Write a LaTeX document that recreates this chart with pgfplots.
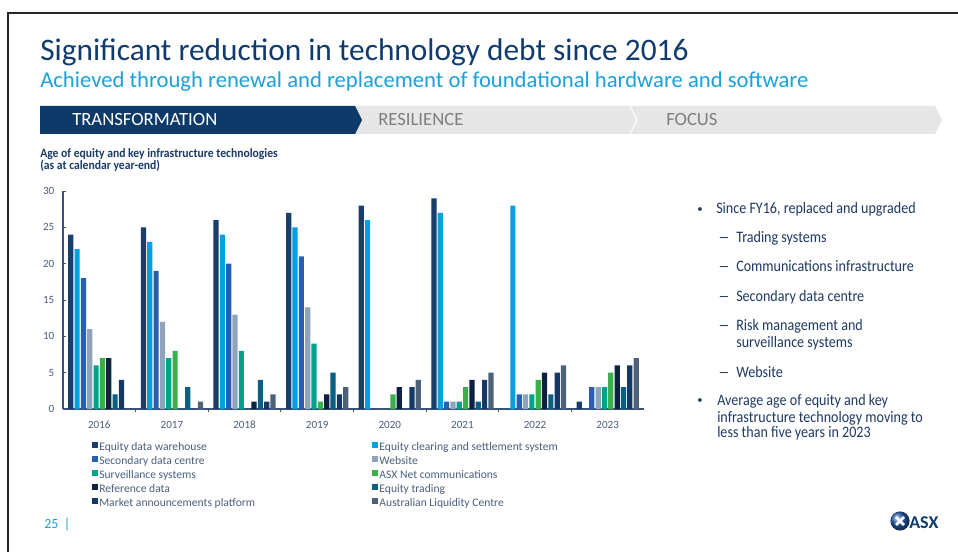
\documentclass[border=0pt]{standalone}
\usepackage{pgfplots}
\pgfplotsset{compat=1.18}
\usepackage{fontspec}
\setmainfont{Carlito}
\newfontfamily\narrowf[FakeStretch=0.88]{Carlito}
\newfontfamily\semif[FakeStretch=0.92]{Carlito}
\definecolor{titlec}{HTML}{0F3B6E}
\definecolor{subc}{HTML}{1BA1DB}
\definecolor{chevd}{HTML}{0E3A6A}
\definecolor{chevg}{HTML}{E6E6E6}
\definecolor{chevt}{HTML}{7F7F7F}
\definecolor{txtc}{HTML}{1E3A64}
\definecolor{ctc}{HTML}{1A3A6A}
\definecolor{axisc}{HTML}{3A5275}
\definecolor{tickc}{HTML}{4A5E7E}
\definecolor{legc}{HTML}{4A5F7F}
\definecolor{cA}{HTML}{1A3D6B}
\definecolor{cB}{HTML}{04A0E2}
\definecolor{cC}{HTML}{2A5FAE}
\definecolor{cD}{HTML}{8FA3BB}
\definecolor{cE}{HTML}{00A38A}
\definecolor{cF}{HTML}{3AB04A}
\definecolor{cG}{HTML}{0D2240}
\definecolor{cH}{HTML}{0A5F82}
\definecolor{cI}{HTML}{163864}
\definecolor{cJ}{HTML}{4D6178}
\newcommand{\dash}{\scalebox{1.6}[1]{–}}
\begin{document}
\begin{tikzpicture}
\path[use as bounding box] (0,0) rectangle (718.5pt,413.25pt);
\fill[white] (0,0) rectangle (718.5pt,413.25pt);
\begin{scope}[x=0.75pt,y=-0.75pt,shift={(0pt,413.25pt)}]
  % frame
  \draw[black!85, line width=1.5pt] (8,560) -- (8,13) -- (960,13);
  % titles
  \node[anchor=base west, inner sep=0pt, text=titlec, font=\fontsize{23.5pt}{27pt}\selectfont] at (40,61) {Significant reduction in technology debt since 2016};
  \node[anchor=base west, inner sep=0pt, text=subc, font=\fontsize{17pt}{20pt}\selectfont] at (40,88) {Achieved through renewal and replacement of foundational hardware and software};
  % chevrons
  \fill[chevg] (355,106) -- (630,106) -- (637,120) -- (630,134) -- (355,134) -- cycle;
  \fill[chevg] (630,106) -- (935,106) -- (942,120) -- (935,134) -- (630,134) -- (637,120) -- cycle;
  \draw[white, line width=0.8pt] (630,106) -- (637,120) -- (630,134);
  \fill[chevd] (40,106) -- (355,106) -- (362,120) -- (355,134) -- (40,134) -- cycle;
  \node[anchor=base west, inner sep=0pt, text=white, font=\fontsize{14pt}{16pt}\selectfont] at (72,126) {TRANSFORMATION};
  \node[anchor=base west, inner sep=0pt, text=chevt, font=\fontsize{14pt}{16pt}\selectfont] at (378,126) {RESILIENCE};
  \node[anchor=base west, inner sep=0pt, text=chevt, font=\fontsize{14pt}{16pt}\selectfont] at (666,126) {FOCUS};
  % chart title
  \node[anchor=base west, inner sep=0pt, text=ctc, font=\semif\bfseries\fontsize{9.5pt}{11pt}\selectfont] at (40,158) {Age of equity and key infrastructure technologies};
  \node[anchor=base west, inner sep=0pt, text=ctc, font=\semif\bfseries\fontsize{9.5pt}{11pt}\selectfont] at (40,170) {(as at calendar year-end)};
  % right text
  \begin{scope}[every node/.style={anchor=base west, inner sep=0pt, text=txtc, font=\narrowf\fontsize{12pt}{14pt}\selectfont}]
    \node[font=\fontsize{8pt}{9pt}\selectfont] at (697,212) {•};
    \node at (716,214) {Since FY16, replaced and upgraded};
    \node at (718,243) {\dash}; \node at (736,243) {Trading systems};
    \node at (718,272) {\dash}; \node at (736,272) {Communications infrastructure};
    \node at (718,302) {\dash}; \node at (736,302) {Secondary data centre};
    \node at (718,330) {\dash}; \node at (736,330) {Risk management and};
    \node at (736,347) {surveillance systems};
    \node at (718,377) {\dash}; \node at (736,377) {Website};
    \node[font=\fontsize{8pt}{9pt}\selectfont] at (697,403) {•};
    \node at (717,405) {Average age of equity and key};
    \node at (717,422) {infrastructure technology moving to};
    \node at (717,437) {less than five years in 2023};
  \end{scope}
  % page number
  \node[anchor=base west, inner sep=0pt, text=subc, font=\fontsize{10.5pt}{12pt}\selectfont] at (44,528) {25 \,|};
  % logo
  \shade[ball color=cC] (900,521) circle (7.2pt);
  \draw[white, line width=2pt] (896,517) -- (904,525) (904,517) -- (896,525);
  \node[anchor=base west, inner sep=0pt, text=titlec, font=\bfseries\fontsize{13.5pt}{15pt}\selectfont] at (909,528) {ASX};
\end{scope}
\begin{axis}[
  at={(47.25pt,106.5pt)}, anchor=south west,
  scale only axis, width=435.75pt, height=163.5pt,
  xmin=-0.5, xmax=7.5, ymin=0, ymax=30,
  axis x line*=bottom, axis y line*=left,
  axis line style={draw=axisc, line width=0.9pt},
  every tick/.style={draw=axisc, line width=0.7pt},
  tick align=inside, major tick length=2.3pt,
  /pgf/number format/assume math mode=true,
  ytick={0,5,...,30},
  xtick={0.5,1.5,...,6.5}, xticklabels={,,,,,,,},
  extra x ticks={0,1,2,3,4,5,6,7},
  extra x tick labels={2016,2017,2018,2019,2020,2021,2022,2023},
  extra x tick style={major tick length=0pt},
  ticklabel style={font=\fontsize{8.3pt}{10pt}\selectfont, text=tickc},
  yticklabel style={xshift=-3pt},
  xticklabel style={yshift=-5.5pt},
  ybar=0.85pt, bar width=3.9pt,
  legend columns=2, legend cell align=left,
  legend style={at={(0.043,-0.135)}, anchor=north west, draw=none, fill=none,
    font=\fontsize{8.7pt}{10pt}\selectfont, text=legc,
    column sep=0pt, row sep=1.4pt,
    nodes={inner sep=0.8pt, text height=6pt, text depth=1.6pt}},
  legend image code/.code={\fill[#1] (0pt,-0.3pt) rectangle (4.5pt,4.2pt);},
]
\addplot[fill=cA, draw=none] coordinates {(0,24)(1,25)(2,26)(3,27)(4,28)(5,29)(6,0)(7,1)};
\addplot[fill=cB, draw=none] coordinates {(0,22)(1,23)(2,24)(3,25)(4,26)(5,27)(6,28)(7,0)};
\addplot[fill=cC, draw=none] coordinates {(0,18)(1,19)(2,20)(3,21)(4,0)(5,1)(6,2)(7,3)};
\addplot[fill=cD, draw=none] coordinates {(0,11)(1,12)(2,13)(3,14)(4,0)(5,1)(6,2)(7,3)};
\addplot[fill=cE, draw=none] coordinates {(0,6)(1,7)(2,8)(3,9)(4,0)(5,1)(6,2)(7,3)};
\addplot[fill=cF, draw=none] coordinates {(0,7)(1,8)(2,0)(3,1)(4,2)(5,3)(6,4)(7,5)};
\addplot[fill=cG, draw=none] coordinates {(0,7)(1,0)(2,1)(3,2)(4,3)(5,4)(6,5)(7,6)};
\addplot[fill=cH, draw=none] coordinates {(0,2)(1,3)(2,4)(3,5)(4,0)(5,1)(6,2)(7,3)};
\addplot[fill=cI, draw=none] coordinates {(0,4)(1,0)(2,1)(3,2)(4,3)(5,4)(6,5)(7,6)};
\addplot[fill=cJ, draw=none] coordinates {(0,0)(1,1)(2,2)(3,3)(4,4)(5,5)(6,6)(7,7)};
\addlegendentry{\makebox[204pt][l]{Equity data warehouse}}
\addlegendentry{Equity clearing and settlement system}
\addlegendentry{\makebox[204pt][l]{Secondary data centre}}
\addlegendentry{Website}
\addlegendentry{\makebox[204pt][l]{Surveillance systems}}
\addlegendentry{ASX Net communications}
\addlegendentry{\makebox[204pt][l]{Reference data}}
\addlegendentry{Equity trading}
\addlegendentry{\makebox[204pt][l]{Market announcements platform}}
\addlegendentry{Australian Liquidity Centre}
\end{axis}
\end{tikzpicture}
\end{document}
